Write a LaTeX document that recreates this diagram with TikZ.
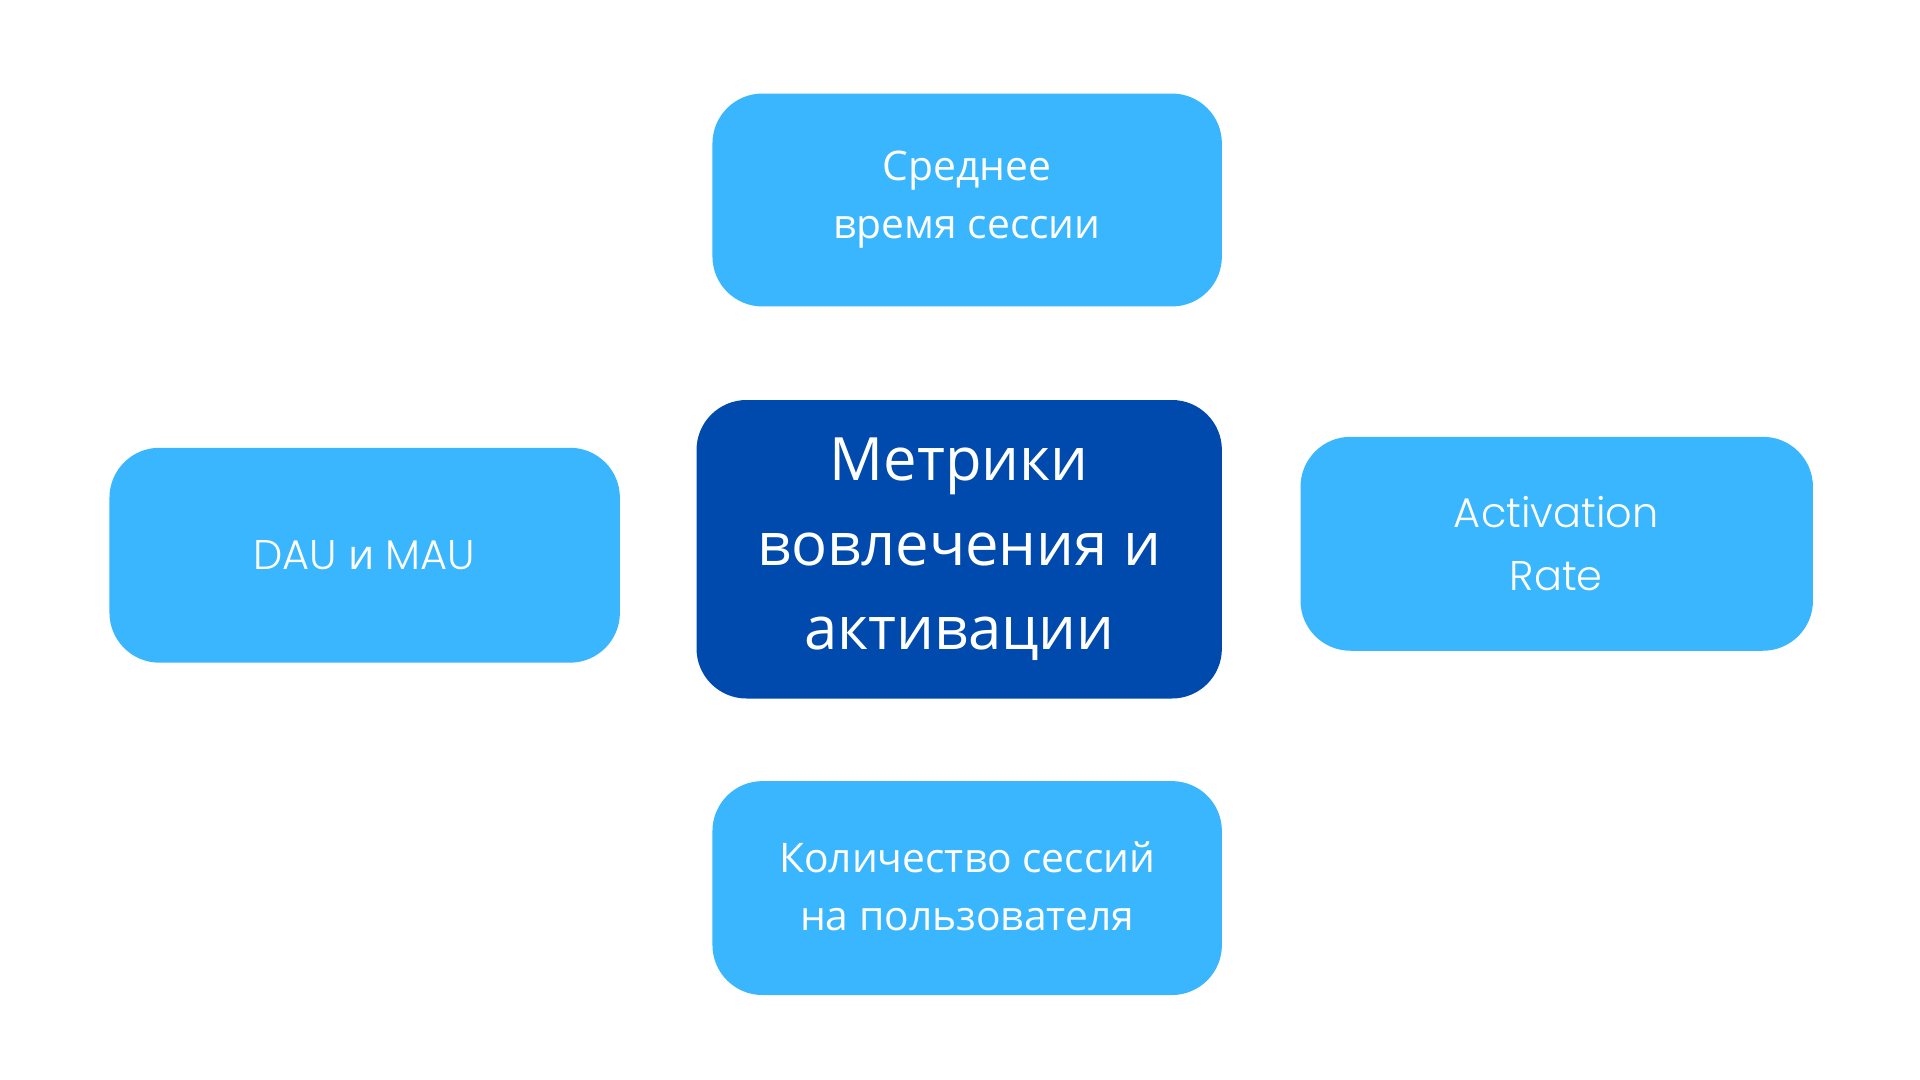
\documentclass[tikz,border=0pt]{standalone}
\usepackage{fontspec}
\setmainfont{Open Sans}
\newfontfamily\latinthin{Poppins Light}
\definecolor{lb}{HTML}{3AB6FE}
\definecolor{db}{HTML}{004AAD}
\begin{document}
\begin{tikzpicture}[x=0.00995cm,y=-0.00995cm,
  box/.style={rounded corners=0.5cm,fill=lb,text=white,align=center,font=\fontsize{11.6pt}{16.5pt}\selectfont},
  cbox/.style={rounded corners=0.5cm,fill=db,text=white,align=center,font=\fontsize{17pt}{24pt}\selectfont}]
\useasboundingbox (0,0) rectangle (1929.6,1085.4);
\fill[white] (0,0) rectangle (1929.6,1085.4);
\fill[lb,rounded corners=0.5cm] (716,94) rectangle (1228,308);
\node[box] (top) at (972,201) {Среднее\\время сессии};
\fill[db,rounded corners=0.5cm] (700,402) rectangle (1228,702);
\node[cbox] (c) at (964,552) {Метрики\\вовлечения и\\активации};
\fill[lb,rounded corners=0.5cm] (110,450) rectangle (623,666);
\node[box,font=\latinthin\fontsize{11.8pt}{18pt}\selectfont] (l) at (366,558) {DAU {\rmfamily и} MAU};
\fill[lb,rounded corners=0.5cm] (1307,439) rectangle (1822,654);
\node[box,font=\latinthin\fontsize{11.8pt}{18pt}\selectfont] (r) at (1564,546) {Activation\\Rate};
\fill[lb,rounded corners=0.5cm] (716,785) rectangle (1228,1000);
\node[box] (b) at (972,891) {Количество сессий\\на пользователя};
\end{tikzpicture}
\end{document}
